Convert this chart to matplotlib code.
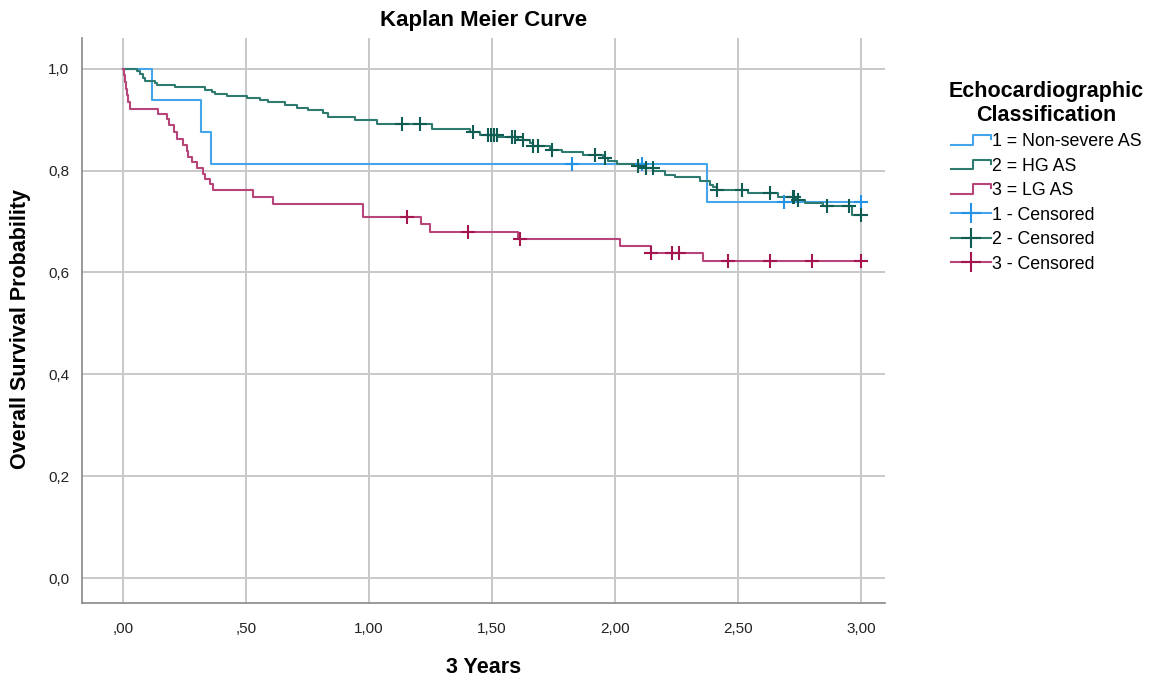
import numpy as np
import matplotlib
matplotlib.use("Agg")
import matplotlib.pyplot as plt
from matplotlib.lines import Line2D
from matplotlib.legend_handler import HandlerBase

plt.rcParams["font.family"] = ["Liberation Sans", "DejaVu Sans"]

# ---- data (step times in years, survival after each step) ----
blue_times = [0.0, 0.117, 0.317, 0.358, 2.373]
blue_surv = [1.0, 0.9375, 0.875, 0.8125, 0.7386]
blue_cens = [1.824, 2.108, 2.687, 3.0]

green_times = [0.0, 0.056, 0.069, 0.083, 0.089, 0.130, 0.137, 0.211, 0.333, 0.360,
               0.374, 0.421, 0.503, 0.557, 0.591, 0.659, 0.706, 0.753, 0.814, 0.835,
               0.943, 1.031, 1.255, 1.411, 1.451, 1.526, 1.607, 1.654, 1.668, 1.736,
               1.783, 1.871, 1.952, 1.972, 2.007, 2.081, 2.128, 2.156, 2.203, 2.244,
               2.346, 2.386, 2.400, 2.413, 2.542, 2.664, 2.738, 2.772, 2.847, 2.965]
green_surv = [1.0, 0.995, 0.989, 0.981, 0.975, 0.971, 0.968, 0.963, 0.958, 0.954,
              0.950, 0.946, 0.943, 0.938, 0.934, 0.929, 0.923, 0.918, 0.912, 0.906,
              0.899, 0.892, 0.882, 0.876, 0.870, 0.866, 0.859, 0.854, 0.849, 0.841,
              0.836, 0.831, 0.825, 0.818, 0.813, 0.808, 0.804, 0.800, 0.792, 0.787,
              0.779, 0.771, 0.767, 0.762, 0.756, 0.749, 0.743, 0.736, 0.730, 0.713]
green_cens = [1.136, 1.207, 1.421, 1.485, 1.494, 1.508, 1.519, 1.580, 1.593, 1.627,
              1.668, 1.688, 1.742, 1.919, 1.959, 2.095, 2.128, 2.153, 2.413, 2.515,
              2.630, 2.722, 2.729, 2.745, 2.860, 2.950, 3.0]

red_times = [0.0, 0.003, 0.007, 0.011, 0.016, 0.021, 0.028, 0.144, 0.178, 0.187,
             0.209, 0.218, 0.245, 0.259, 0.266, 0.279, 0.300, 0.327, 0.333, 0.354,
             0.367, 0.530, 0.608, 0.977, 1.210, 1.248, 1.604, 2.020, 2.146, 2.357]
red_surv = [1.0, 0.987, 0.974, 0.961, 0.948, 0.934, 0.921, 0.911, 0.901, 0.889,
            0.876, 0.862, 0.850, 0.838, 0.827, 0.816, 0.804, 0.794, 0.784, 0.774,
            0.762, 0.749, 0.735, 0.708, 0.695, 0.680, 0.666, 0.652, 0.638, 0.622]
red_cens = [1.153, 1.401, 1.614, 2.146, 2.230, 2.261, 2.458, 2.630, 2.802, 3.0]

labels = ["1 = Non-severe AS", "2 = HG AS", "3 = LG AS"]
cens_labels = ["1 - Censored", "2 - Censored", "3 - Censored"]
x_ticks = [0, 0.5, 1.0, 1.5, 2.0, 2.5, 3.0]
x_ticklabels = [",00", ",50", "1,00", "1,50", "2,00", "2,50", "3,00"]
y_ticks = [0, 0.2, 0.4, 0.6, 0.8, 1.0]
y_ticklabels = ["0,0", "0,2", "0,4", "0,6", "0,8", "1,0"]

line_colors = ["#45a5ea", "#2f7a6e", "#b8457a"]
mark_colors = ["#2493e6", "#0f5c52", "#a3164f"]


class StepHandler(HandlerBase):
    # little step icon used by SPSS for survival lines
    def create_artists(self, legend, orig_handle, xdescent, ydescent,
                       width, height, fontsize, trans):
        x0, y0 = -xdescent, -ydescent
        xs = [x0, x0 + 0.55 * width, x0 + 0.55 * width, x0 + width, x0 + width]
        ys = [y0 + 0.1 * height, y0 + 0.1 * height, y0 + 0.9 * height,
              y0 + 0.9 * height, y0 + 0.55 * height]
        ln = Line2D(xs, ys, color=orig_handle.get_color(),
                    lw=orig_handle.get_linewidth())
        ln.set_transform(trans)
        return [ln]


fig = plt.figure(figsize=(11.63, 6.8), dpi=100)
ax = fig.add_axes([0.0705, 0.1132, 0.761 - 0.0705, 0.944 - 0.1132])

groups = [(blue_times, blue_surv, blue_cens),
          (green_times, green_surv, green_cens),
          (red_times, red_surv, red_cens)]

step_handles = []
for (t, s, c), lc in zip(groups, line_colors):
    t = np.asarray(t)
    s = np.asarray(s)
    xs = np.append(t, max(c))
    ys = np.append(s, s[-1])
    h, = ax.step(xs, ys, where="post", color=lc, lw=1.5, zorder=3)
    step_handles.append(h)

cens_handles = []
for (t, s, c), lc, mc in zip(groups, line_colors, mark_colors):
    t = np.asarray(t)
    s = np.asarray(s)
    c = np.asarray(c)
    idx = np.searchsorted(t, c, side="right") - 1
    ax.plot(c, s[idx], ls="none", marker="+", ms=10, mew=1.5, color=mc, zorder=4)
    cens_handles.append(Line2D([], [], color=lc, lw=1.5, marker="+", ms=15,
                               mew=1.5, mec=mc))

ax.set_xlim(-0.167, 3.098)
ax.set_ylim(-0.049, 1.06)
ax.set_xticks(x_ticks)
ax.set_xticklabels(x_ticklabels)
ax.set_yticks(y_ticks)
ax.set_yticklabels(y_ticklabels)
ax.tick_params(axis="both", length=0, labelsize=11, colors="#222222")
ax.tick_params(axis="x", pad=14)
ax.tick_params(axis="y", pad=9)
ax.grid(True, color="#c8c8c8", lw=1.4)
ax.set_axisbelow(True)
for sp in ["top", "right"]:
    ax.spines[sp].set_visible(False)
for sp in ["left", "bottom"]:
    ax.spines[sp].set_color("#888888")
    ax.spines[sp].set_linewidth(1.2)

ax.set_title("Kaplan Meier Curve", fontsize=16, fontweight="bold", pad=9)
ax.set_xlabel("3 Years", fontsize=15.5, fontweight="bold", labelpad=15)
ax.set_ylabel("Overall Survival Probability", fontsize=15.5, fontweight="bold")
ax.yaxis.set_label_coords(-0.064, 0.485)

leg = fig.legend(step_handles + cens_handles, labels + cens_labels,
                 handler_map={h: StepHandler() for h in step_handles},
                 loc="upper left", bbox_to_anchor=(0.802, 0.905),
                 frameon=False, fontsize=12.8, handlelength=2.25,
                 handletextpad=0.05, labelspacing=0.42,
                 title="Echocardiographic\nClassification",
                 title_fontproperties={"size": 15.5, "weight": "bold"})
leg.get_title().set_multialignment("center")

fig.savefig("out.png", dpi=100)
